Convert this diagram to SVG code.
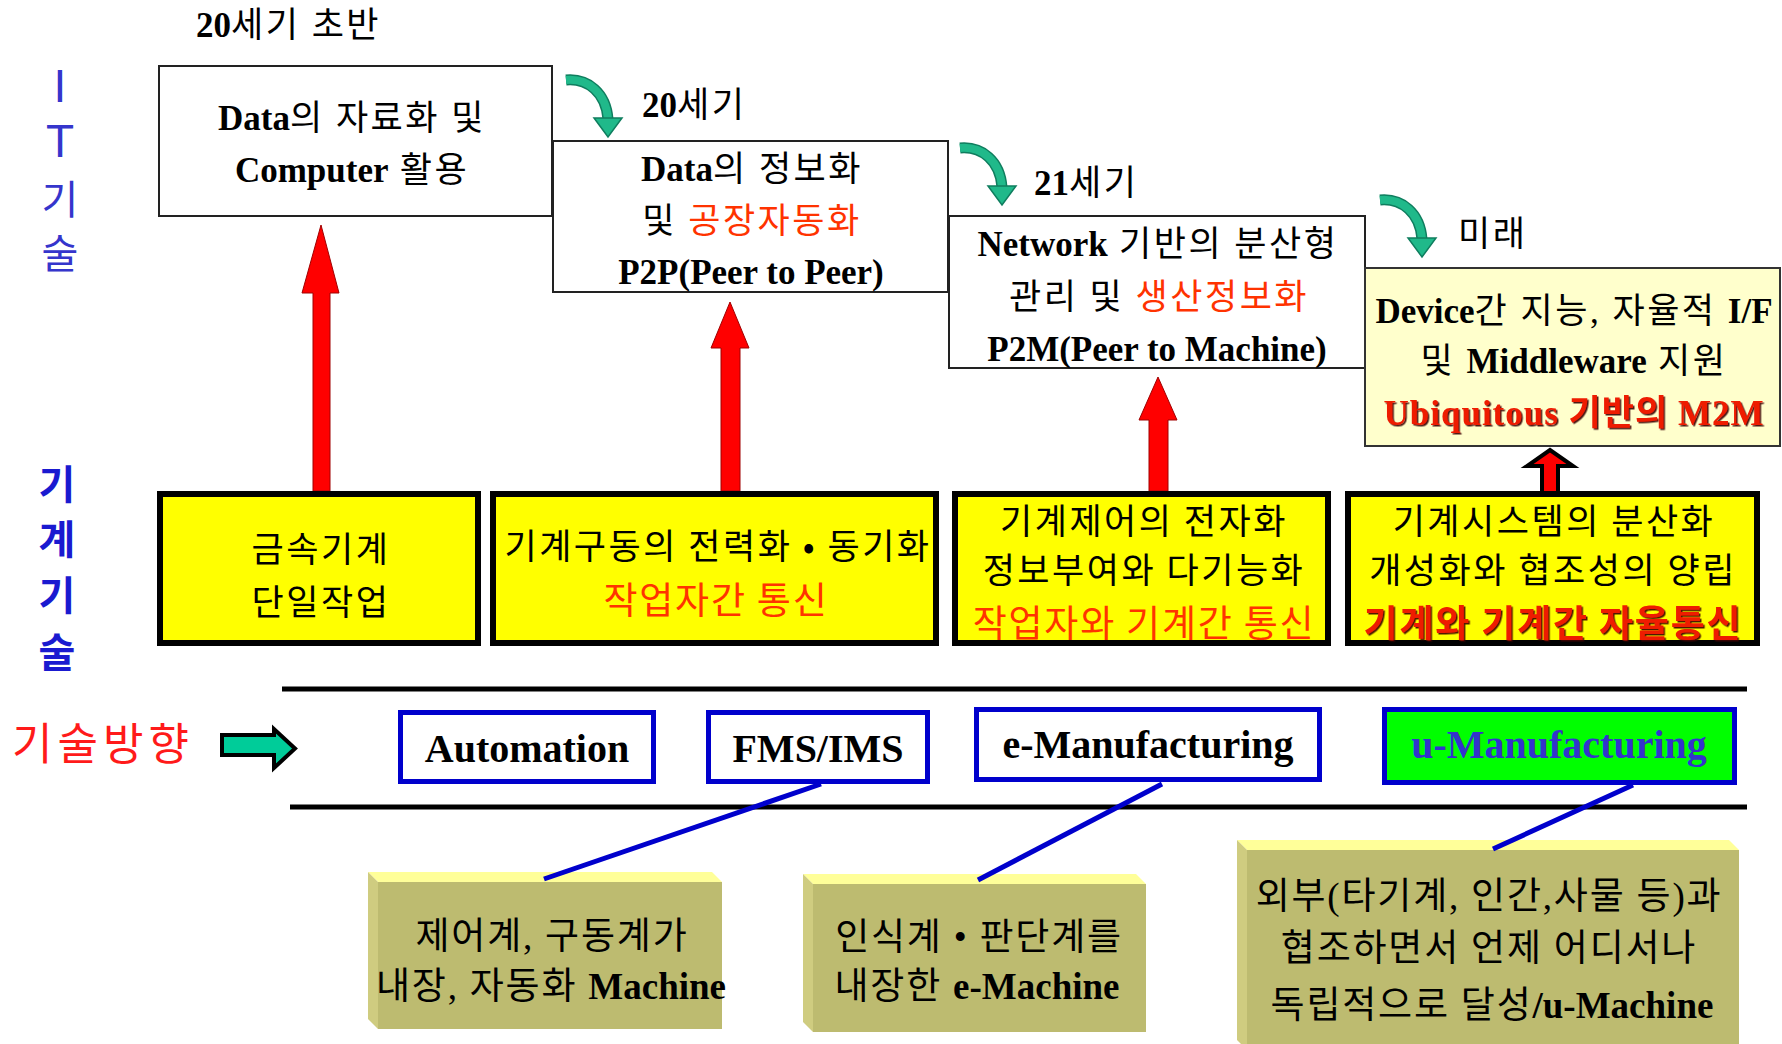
<svg xmlns="http://www.w3.org/2000/svg" width="1782" height="1044" viewBox="0 0 1782 1044">
  <defs>
    <style>
      text { font-family: "Liberation Serif", "Noto Sans CJK KR", serif; font-size: 35px; fill: #000; text-anchor: middle; letter-spacing: 2.5px; }
      .b { font-weight: bold; letter-spacing: 0; }
      .k { font-family: "Noto Sans CJK KR", sans-serif; }
      .red { fill: #ff3300; }
      .big { font-size: 37px; letter-spacing: 1.8px; }
      .plate { font-size: 37px; letter-spacing: 1.8px; }
      .hot { fill: #ee1a00; font-weight: bold; filter: url(#shadow); }
      .wbox { fill: #fff; stroke: #222; stroke-width: 2; }
      .pbox { fill: #ffffcc; stroke: #333; stroke-width: 2; }
      .ybox { fill: #ffff00; stroke: #000; stroke-width: 6; }
      .bbox { fill: #fff; stroke: #0000cc; stroke-width: 5; }
      .gbox { fill: #00ff00; stroke: #0000cc; stroke-width: 5; }
      .face { fill: #bdbb70; }
      .top { fill: #ffff99; }
      .side { fill: #cfcc80; }
      .para { font-size: 40px; font-weight: bold; letter-spacing: 0; }
      .it { fill: #3535cc; letter-spacing: 0; }
      .mt { fill: #1a1ad0; font-size: 40px; font-weight: bold; letter-spacing: 0; }
      .rarrow { fill: #ff0000; stroke: #a00000; stroke-width: 1; }
      .link { stroke: #0000cc; stroke-width: 5; fill: none; }
      .rule { stroke: #000; stroke-width: 5; }
    </style>
    <filter id="shadow" x="-5%" y="-20%" width="110%" height="140%">
      <feDropShadow dx="1.5" dy="1.5" stdDeviation="0.6" flood-color="#3a0000" flood-opacity="0.9"/>
    </filter>
    <!-- curved "next era" arrow, origin at the tail -->
    <g id="turn">
      <path d="M0,5 C22,3 40,18 42,44" fill="none" stroke="#0f7d5e" stroke-width="11"/>
      <path d="M0,5 C22,3 40,18 42,44" fill="none" stroke="#20b98a" stroke-width="8"/>
      <polygon points="28,43 56,43 42,62" fill="#20b98a" stroke="#0f7d5e" stroke-width="1.5"/>
    </g>
  </defs>

  <rect width="1782" height="1044" fill="#fff"/>

  <!-- side labels -->
  <g id="label-it">
    <text x="60" y="102" class="it" style="font-family:'Liberation Sans',sans-serif;font-size:46px">I</text>
    <text x="60" y="157" class="it" style="font-family:'Liberation Sans',sans-serif;font-size:46px">T</text>
    <text x="60" y="214" class="k it" style="font-size:40px">기</text>
    <text x="60" y="268" class="k it" style="font-size:40px">술</text>
  </g>
  <g id="label-machine">
    <text x="57" y="499" class="k mt">기</text>
    <text x="57" y="554" class="k mt">계</text>
    <text x="57" y="610" class="k mt">기</text>
    <text x="57" y="667" class="k mt">술</text>
  </g>
  <g id="label-direction">
    <text x="12" y="760" class="k" style="font-size:44px;fill:#ff1a1a;text-anchor:start;letter-spacing:5px">기술방향</text>
    <polygon points="222,735 274,735 274,729 295,748.5 274,768 274,755 222,755" fill="#00cc99" stroke="#000" stroke-width="4"/>
  </g>

  <!-- era captions -->
  <g id="era-labels">
    <text x="196" y="37" style="text-anchor:start"><tspan class="b">20</tspan>세기 초반</text>
    <text x="642" y="117" style="text-anchor:start"><tspan class="b">20</tspan>세기</text>
    <text x="1034" y="195" style="text-anchor:start"><tspan class="b">21</tspan>세기</text>
    <text x="1458" y="246" style="text-anchor:start">미래</text>
  </g>

  <!-- connectors -->
  <g id="connectors">
    <use href="#turn" x="566" y="75"/>
    <use href="#turn" x="960" y="143"/>
    <use href="#turn" x="1380" y="195"/>
    <path class="rarrow" d="M313,491 V293 H302 L321,225 L339,293 H330 V491 Z"/>
    <path class="rarrow" d="M721,491 V348 H711 L730,302 L749,348 H740 V491 Z"/>
    <path class="rarrow" d="M1149,491 V420 H1139 L1158,377 L1177,420 H1168 V491 Z"/>
    <path d="M1542,491 V466 H1527 L1550,450 L1573,466 H1558 V491" fill="#ff0000" stroke="#000" stroke-width="4"/>
  </g>

  <!-- IT technology boxes -->
  <g id="it-1">
    <rect class="wbox" x="159" y="66" width="393" height="150"/>
    <text x="352" y="130"><tspan class="b">Data</tspan>의 자료화 및</text>
    <text x="352" y="182"><tspan class="b">Computer</tspan> 활용</text>
  </g>
  <g id="it-2">
    <rect class="wbox" x="553" y="141" width="395" height="151"/>
    <text x="752" y="181"><tspan class="b">Data</tspan>의 정보화</text>
    <text x="752" y="233">및 <tspan class="red">공장자동화</tspan></text>
    <text x="751" y="284" class="b">P2P(Peer to Peer)</text>
  </g>
  <g id="it-3">
    <rect class="wbox" x="949" y="216" width="416" height="152"/>
    <text x="1158" y="256"><tspan class="b">Network</tspan> 기반의 분산형</text>
    <text x="1159" y="309">관리 및 <tspan class="red">생산정보화</tspan></text>
    <text x="1157" y="361" class="b">P2M(Peer to Machine)</text>
  </g>
  <g id="it-4">
    <rect class="pbox" x="1365" y="268" width="415" height="178"/>
    <text x="1574" y="323"><tspan class="b">Device</tspan>간 지능, 자율적 <tspan class="b">I/F</tspan></text>
    <text x="1574" y="373">및 <tspan class="b">Middleware</tspan> 지원</text>
    <text x="1574" y="425" class="hot" style="letter-spacing:1px">Ubiquitous 기반의 M2M</text>
  </g>

  <!-- machine technology boxes -->
  <g id="mc-1">
    <rect class="ybox" x="160" y="494" width="318" height="149"/>
    <text x="321" y="562" class="k">금속기계</text>
    <text x="321" y="615" class="k">단일작업</text>
  </g>
  <g id="mc-2">
    <rect class="ybox" x="493" y="494" width="443" height="149"/>
    <text x="718" y="559" class="k">기계구동의 전력화 • 동기화</text>
    <text x="716" y="614" class="k red big">작업자간 통신</text>
  </g>
  <g id="mc-3">
    <rect class="ybox" x="955" y="494" width="373" height="149"/>
    <text x="1144" y="534" class="k">기계제어의 전자화</text>
    <text x="1144" y="583" class="k">정보부여와 다기능화</text>
    <text x="1144" y="637" class="k red big">작업자와 기계간 통신</text>
  </g>
  <g id="mc-4">
    <rect class="ybox" x="1348" y="494" width="409" height="149"/>
    <text x="1554" y="534" class="k">기계시스템의 분산화</text>
    <text x="1553" y="583" class="k">개성화와 협조성의 양립</text>
    <text x="1553" y="637" class="k hot big">기계와 기계간 자율통신</text>
  </g>

  <!-- band of manufacturing paradigms -->
  <g id="rules">
    <line class="rule" x1="282" y1="689" x2="1747" y2="689"/>
    <line class="rule" x1="290" y1="807" x2="1747" y2="807"/>
  </g>
  <g id="p-automation">
    <rect class="bbox" x="400.5" y="712.5" width="253" height="69"/>
    <text x="527" y="762" class="para">Automation</text>
  </g>
  <g id="p-fms">
    <rect class="bbox" x="708.5" y="712.5" width="219" height="69"/>
    <text x="818" y="762" class="para">FMS/IMS</text>
  </g>
  <g id="p-emfg">
    <rect class="bbox" x="976.5" y="709.5" width="343" height="70"/>
    <text x="1148" y="758" class="para">e-Manufacturing</text>
  </g>
  <g id="p-umfg">
    <rect class="gbox" x="1384.5" y="709.5" width="350" height="73"/>
    <text x="1559" y="758" class="para" style="fill:#3333cc">u-Manufacturing</text>
  </g>

  <!-- machine kinds (bevelled plates) -->
  <g id="m-auto">
    <rect class="face" x="378" y="882" width="344" height="147"/>
    <polygon class="top" points="368,872 712,872 722,882 378,882"/>
    <polygon class="side" points="368,872 378,882 378,1029 368,1019"/>
    <text x="552" y="949" class="plate">제어계, 구동계가</text>
    <text x="551" y="999" class="plate">내장, 자동화 <tspan class="b">Machine</tspan></text>
  </g>
  <g id="m-e">
    <rect class="face" x="813" y="884" width="333" height="148"/>
    <polygon class="top" points="803,874 1136,874 1146,884 813,884"/>
    <polygon class="side" points="803,874 813,884 813,1032 803,1022"/>
    <text x="979" y="950" class="plate">인식계 • 판단계를</text>
    <text x="977" y="999" class="plate">내장한 <tspan class="b">e-Machine</tspan></text>
  </g>
  <g id="m-u">
    <rect class="face" x="1247" y="850" width="492" height="200"/>
    <polygon class="top" points="1237,840 1729,840 1739,850 1247,850"/>
    <polygon class="side" points="1237,840 1247,850 1247,1050 1237,1040"/>
    <text x="1489" y="909" class="plate">외부(타기계, 인간,사물 등)과</text>
    <text x="1489" y="961" class="plate">협조하면서 언제 어디서나</text>
    <text x="1492" y="1018" class="plate">독립적으로 달성<tspan class="b">/u-Machine</tspan></text>
  </g>

  <!-- callout links -->
  <g id="links">
    <line class="link" x1="821" y1="784" x2="544" y2="879"/>
    <line class="link" x1="1162" y1="784" x2="978" y2="880"/>
    <line class="link" x1="1633" y1="785" x2="1493" y2="849"/>
  </g>
</svg>
